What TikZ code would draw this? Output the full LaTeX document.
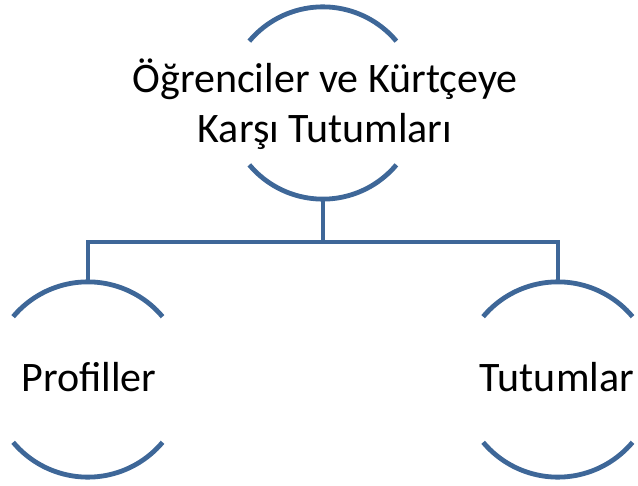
\documentclass[tikz,border=0pt]{standalone}
\usepackage{fontspec}
\setmainfont{Carlito}
\definecolor{hierblue}{RGB}{62,103,152}
\tikzset{
  holder/.style={circle, inner sep=0pt, minimum size=#1},
  rim/.style={draw=hierblue, line width=4.8pt},
  link/.style={draw=hierblue, line width=4.8pt},
  caption/.style={anchor=base, inner sep=0pt, font=\fontsize{42}{50}\selectfont}
}
\begin{document}
\begin{tikzpicture}[x=1pt, y=1pt]
  \useasboundingbox (0,0) rectangle (638,-486);

  % round placeholders for the three entries
  \node[holder=192pt] (root)  at (323,-103)   {};
  \node[holder=195pt] (left)  at (88,-379.5)  {};
  \node[holder=195pt] (right) at (558,-379.5) {};

  % upper and lower rims of each placeholder
  \draw[rim] (root.140)  arc[start angle=140, end angle=40,  radius=96];
  \draw[rim] (root.220)  arc[start angle=220, end angle=320, radius=96];
  \draw[rim] (left.140)  arc[start angle=140, end angle=40,  radius=97.5];
  \draw[rim] (left.220)  arc[start angle=220, end angle=320, radius=97.5];
  \draw[rim] (right.140) arc[start angle=140, end angle=40,  radius=97.5];
  \draw[rim] (right.220) arc[start angle=220, end angle=320, radius=97.5];

  % tree connectors
  \coordinate (fork) at (323,-242);
  \draw[link] (root.south) -- (fork);
  \draw[link] (fork) -| (left.north);
  \draw[link] (fork) -| (right.north);

  % labels
  \node[caption] (rootA)  at (325,-92.3)  {Öğrenciler ve Kürtçeye};
  \node[caption] (rootB)  at (325,-142.3) {Karşı Tutumları};
  \node[caption] (leftT)  at (89,-392)    {Profiller};
  \node[caption] (rightT) at (557,-392)   {Tutumlar};
\end{tikzpicture}
\end{document}
